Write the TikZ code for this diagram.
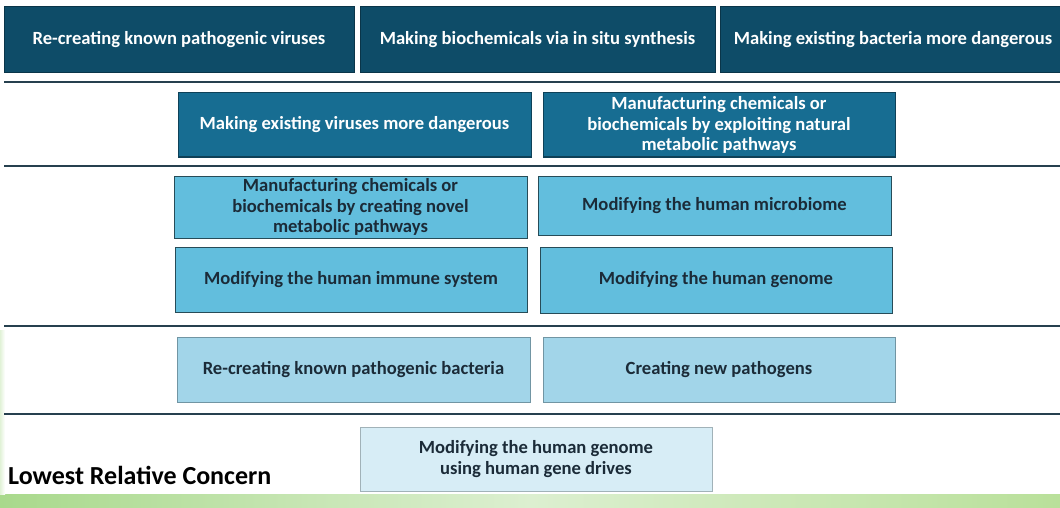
\documentclass[tikz,border=0pt]{standalone}
\usepackage{fontspec}
\setmainfont{Carlito}
\definecolor{tierA}{HTML}{0E4C68}
\definecolor{tierB}{HTML}{176D92}
\definecolor{tierC}{HTML}{62BEDD}
\definecolor{tierD}{HTML}{A2D5E9}
\definecolor{tierE}{HTML}{D7EDF6}
\definecolor{rule}{HTML}{26404F}
\definecolor{ink}{HTML}{1B2B38}
\definecolor{leafL}{HTML}{A9D98C}
\definecolor{leafM}{HTML}{DCEFD0}
\definecolor{leafR}{HTML}{B9E09A}
\tikzset{
  tierbox/.style={rectangle, inner sep=0pt, align=center, font=\bfseries\fontsize{18.6}{20.5}\selectfont},
  darkbox/.style={tierbox, fill=tierA, draw=tierA!70!black, line width=1pt, text=white},
  midbox/.style={tierbox, fill=tierB, draw=tierB!60!black, line width=1pt, text=white},
  lightbox/.style={tierbox, fill=tierC, draw=tierC!40!black, line width=1pt, text=ink},
  paleBox/.style={tierbox, fill=tierD, draw=tierD!70!black, line width=0.6pt, text=ink},
  faintbox/.style={tierbox, fill=tierE, draw=tierE!75!black, line width=0.6pt, text=ink},
  tierrule/.style={draw=rule, line width=2.2pt},
}
% box from (x1,y1) to (x2,y2) in pixel-like units, y downwards
\newcommand{\tierbox}[7]{%
  \node[#6, minimum width=#4-#2, minimum height=#5-#3]
    (#1) at ({(#2+#4)/2},{(#3+#5)/2}) {#7};}
\begin{document}
\begin{tikzpicture}[x=1pt,y=-1pt]
\useasboundingbox (0,0) rectangle (1060,508);
\clip (0,0) rectangle (1060,508);
\fill[white] (0,0) rectangle (1060,508);
% green slide background strip
\shade[left color=leafL, right color=leafR, middle color=leafM] (0,494) rectangle (1060,508);
\shade[left color=leafL!35, right color=white] (0,330) rectangle (5,494);

% tier 1
\tierbox{t1a}{4}{7}{354}{73}{darkbox}{Re-creating known pathogenic viruses}
\tierbox{t1b}{360}{7}{715}{73}{darkbox}{Making biochemicals via in situ synthesis}
\tierbox{t1c}{720}{7}{1066}{73}{darkbox}{Making existing bacteria more dangerous}
\draw[tierrule] (4,82) -- (1060,82);

% tier 2
\tierbox{t2a}{178}{93}{531}{157}{midbox}{Making existing viruses more dangerous}
\tierbox{t2b}{543}{93}{895}{157}{midbox}{Manufacturing chemicals or\\biochemicals by exploiting natural\\metabolic pathways}
\draw[tierrule] (4,166) -- (1060,166);

% tier 3
\tierbox{t3a}{174}{176}{527}{238}{lightbox}{Manufacturing chemicals or\\biochemicals by creating novel\\metabolic pathways}
\tierbox{t3b}{538}{176}{891}{235}{lightbox}{Modifying the human microbiome}
\tierbox{t3c}{175}{247}{527}{312}{lightbox}{Modifying the human immune system}
\tierbox{t3d}{540}{247}{892}{313}{lightbox}{Modifying the human genome}
\draw[tierrule] (4,326) -- (1060,326);

% tier 4
\tierbox{t4a}{177}{337}{530}{402}{paleBox}{Re-creating known pathogenic bacteria}
\tierbox{t4b}{543}{337}{895}{402}{paleBox}{Creating new pathogens}
\draw[tierrule] (4,414) -- (1060,414);

% tier 5
\tierbox{t5a}{360}{427}{712}{491}{faintbox}{Modifying the human genome\\using human gene drives}
\node[anchor=west, inner sep=0pt, text=black, font=\bfseries\fontsize{26}{28}\selectfont]
  (lowest) at (8,475) {Lowest Relative Concern};
\end{tikzpicture}
\end{document}
